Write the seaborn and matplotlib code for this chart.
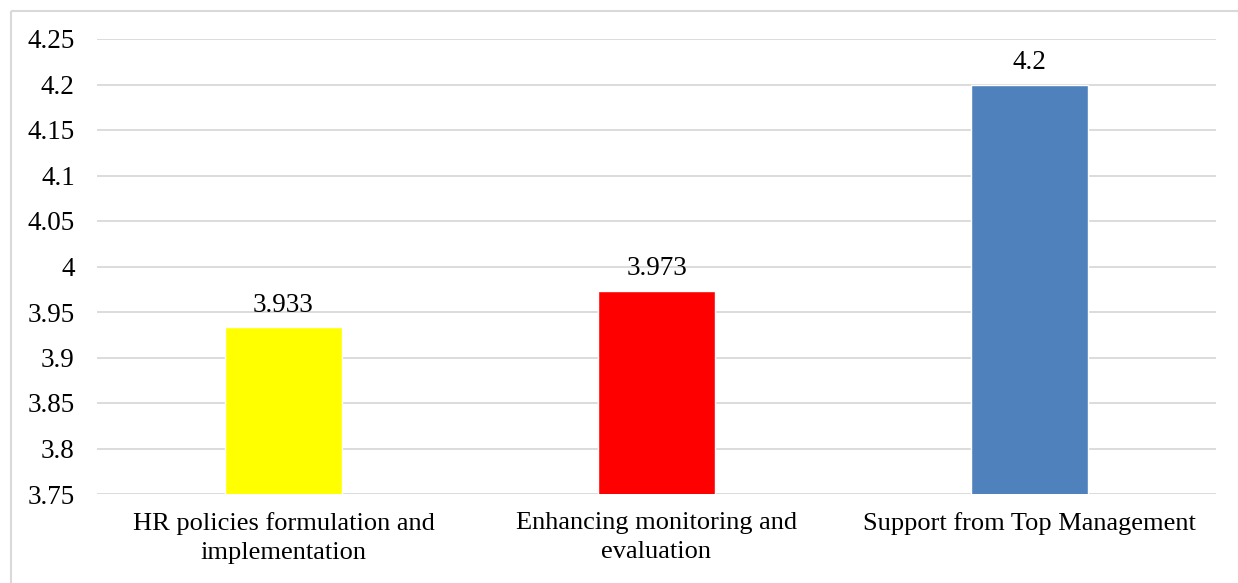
import matplotlib
matplotlib.use("Agg")
import matplotlib.pyplot as plt
from matplotlib.lines import Line2D
import seaborn as sns
import pandas as pd

categories = ["HR policies formulation and\nimplementation",
              "Enhancing monitoring and\nevaluation",
              "Support from Top Management"]
values = [3.933, 3.973, 4.2]
value_labels = ["3.933", "3.973", "4.2"]
colors = ["#FFFF00", "#FF0000", "#4F81BD"]
yticks = [3.75, 3.8, 3.85, 3.9, 3.95, 4.0, 4.05, 4.1, 4.15, 4.2, 4.25]
ytick_labels = ["3.75", "3.8", "3.85", "3.9", "3.95", "4", "4.05", "4.1", "4.15", "4.2", "4.25"]

sns.set_theme(style="white")
plt.rcParams["font.family"] = ["Liberation Serif", "DejaVu Serif"]

W, H = 1238, 583
fig = plt.figure(figsize=(W / 100, H / 100), dpi=100)
fig.patch.set_facecolor("white")

# outer chart frame (left and top edges)
frame_c = "#d9d9d9"
fig.add_artist(Line2D([10.5 / W, 10.5 / W], [-0.05, 1 - 10.5 / H], transform=fig.transFigure,
                      color=frame_c, lw=1.5, solid_capstyle="butt"))
fig.add_artist(Line2D([10.5 / W, 1.05], [1 - 10.5 / H, 1 - 10.5 / H], transform=fig.transFigure,
                      color=frame_c, lw=1.5, solid_capstyle="butt"))

ax = fig.add_axes([97 / W, (H - 494) / H, (1216 - 97) / W, (494 - 39) / H])

df = pd.DataFrame({"category": categories, "value": values})
sns.barplot(data=df, x="category", y="value", hue="category", palette=colors,
            width=0.316, legend=False, ax=ax, zorder=3, saturation=1)

ax.set_ylim(3.75, 4.25)
ax.set_yticks(yticks)
ax.set_yticklabels(ytick_labels)
ax.set_xlim(-0.5, 2.5)
ax.yaxis.grid(True, color="#d9d9d9", lw=1.3, zorder=0)
ax.set_axisbelow(True)
for s in ax.spines.values():
    s.set_visible(False)
ax.tick_params(axis="y", length=0, pad=16, labelsize=19.5, colors="black")
ax.tick_params(axis="x", length=0, pad=13, labelsize=19, colors="black")
for t in ax.get_xticklabels():
    t.set_linespacing(1.4)
ax.set_xlabel("")
ax.set_ylabel("")

for i, (v, lab) in enumerate(zip(values, value_labels)):
    ax.annotate(lab, (i, v), xytext=(0, 7), textcoords="offset points",
                ha="center", va="bottom", fontsize=19.5, color="black")

fig.savefig("out.png", dpi=100, facecolor="white")
